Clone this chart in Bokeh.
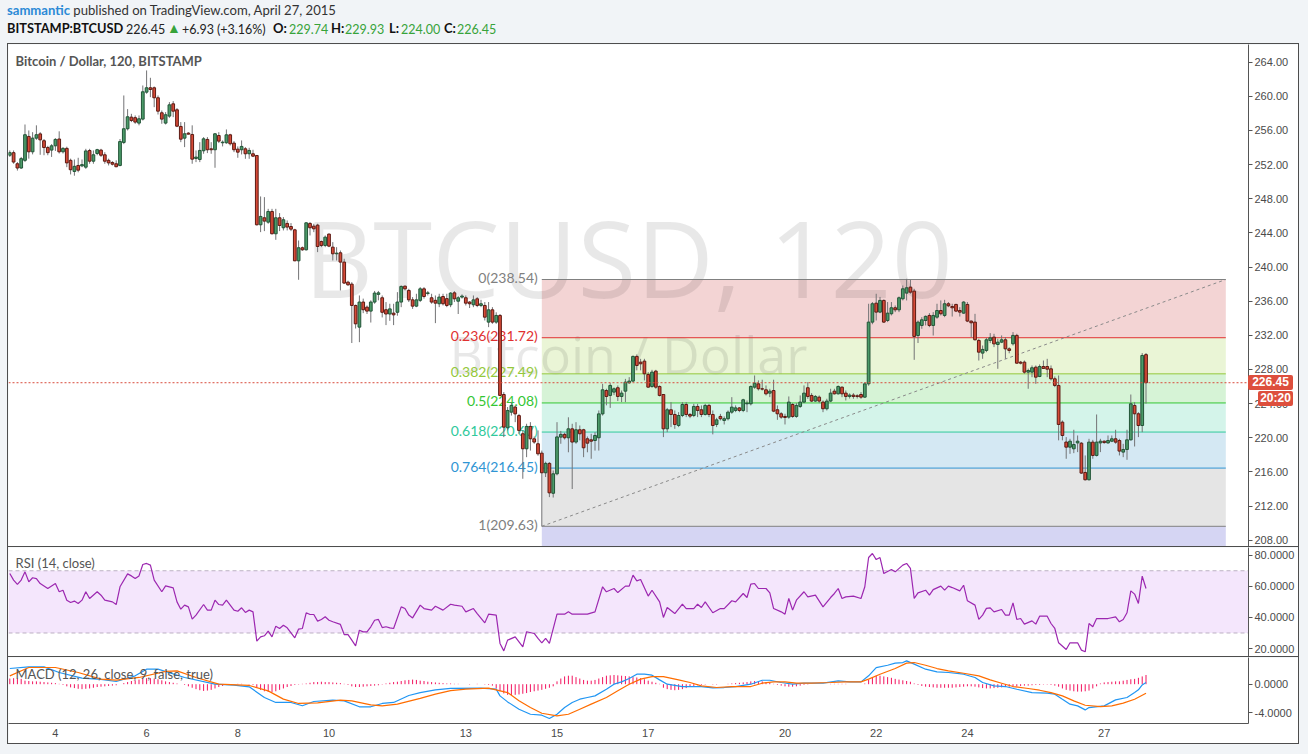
from bokeh.plotting import figure
from bokeh.models import (Range1d, FixedTicker, NumeralTickFormatter, Label, Span,
                          BoxAnnotation, Div, ColumnDataSource, Spacer)
from bokeh.layouts import column, row
from bokeh.embed import file_html
from bokeh.resources import INLINE
from bokeh.core.properties import value

# ---------------- texts ----------------
publisher = "sammantic"
published_text = "published on TradingView.com, April 27, 2015"
symbol = "BITSTAMP:BTCUSD"
change_abs = 6.93
change_pct = 3.16
chart_title = "Bitcoin / Dollar, 120, BITSTAMP"
watermark_big = "BTCUSD, 120"
watermark_small = "Bitcoin / Dollar"
rsi_title = "RSI (14, close)"
macd_title = "MACD (12, 26, close, 9, false, true)"
countdown = "20:20"

# ---------------- time axis ----------------
first_day = 3
bars_per_day = 12
tick_days = [4, 6, 8, 10, 13, 15, 17, 20, 22, 24, 27]

# ---------------- candles (120 min bars) ----------------
opens = [
    253.1, 253.4, 252.1, 251.6, 252.5, 255.3, 253.5, 255.1, 255.6, 254.8,
    254.0, 253.7, 254.2, 255.0, 253.5, 253.9, 252.5, 251.2, 251.9, 251.85,
    251.7, 253.65, 252.4, 253.3, 253.7, 253.15, 252.5, 252.25, 252.1, 251.9,
    254.6, 256.2, 257.56, 257.5, 256.86, 257.33, 260.49, 261.0, 261.0, 259.83,
    258.07, 256.86, 257.68, 259.12, 258.42, 256.47, 255.1, 255.69, 255.53, 252.72,
    252.6, 253.62, 254.95, 253.85, 253.74, 255.41, 254.56, 254.56, 255.49, 254.52,
    253.81, 253.74, 253.85, 253.27, 253.27, 253.07, 244.95, 245.77, 245.26, 246.51,
    243.9, 245.77, 244.6, 245.11, 244.75, 244.36, 240.73, 242.26, 242.02, 245.11,
    244.79, 244.91, 242.99, 242.53, 243.86, 242.33, 241.55, 241.67, 240.58, 238.23,
    238.0, 235.5, 232.96, 235.9, 235.3, 234.84, 235.9, 236.8, 236.4, 235.0,
    234.5, 234.6, 234.7, 235.9, 237.76, 237.26, 236.16, 235.42, 236.1, 237.45,
    236.9, 236.4, 236.1, 235.7, 236.55, 236.3, 235.58, 236.98, 236.0, 236.48,
    236.4, 235.9, 235.58, 236.28, 235.5, 235.5, 233.55, 234.99, 233.55, 234.33,
    225.07, 221.17, 223.0, 223.6, 222.6, 220.47, 218.71, 221.33, 219.88, 219.3,
    218.2, 215.9, 217.0, 213.5, 215.78, 220.08, 220.4, 220.0, 221.05, 219.5,
    220.94, 220.94, 219.88, 219.76, 219.68, 220.0, 222.8, 225.54, 224.96, 225.35,
    225.86, 224.84, 225.46, 226.44, 226.64, 229.53, 228.86, 228.98, 227.42, 226.01,
    227.81, 226.01, 225.07, 221.05, 223.28, 222.73, 221.44, 222.61, 223.9, 222.73,
    222.61, 223.67, 223.28, 222.73, 223.79, 222.73, 221.56, 222.5, 222.03, 222.23,
    223.0, 223.2, 223.5, 223.2, 223.98, 223.98, 225.93, 226.32, 225.74, 225.62,
    225.23, 225.54, 223.28, 222.81, 222.5, 222.42, 223.9, 222.5, 223.67, 224.18,
    225.86, 224.96, 224.3, 224.76, 224.18, 223.4, 224.3, 225.46, 225.15, 225.93,
    225.23, 224.84, 225.0, 224.92, 225.07, 224.76, 226.32, 233.55, 235.77, 234.72,
    236.09, 233.74, 234.53, 235.23, 234.99, 236.28, 236.95, 237.65, 237.18, 231.98,
    233.16, 233.74, 234.33, 233.16, 234.13, 234.91, 234.33, 235.7, 235.38, 235.62,
    234.91, 234.6, 235.62, 233.67, 233.55, 231.4, 229.92, 230.23, 231.4, 231.79,
    230.93, 231.2, 231.48, 230.42, 231.01, 231.99, 228.86, 228.86, 227.69, 227.69,
    228.27, 227.18, 228.35, 228.35, 228.08, 226.91, 226.13, 221.83, 219.5, 218.9,
    218.71, 219.4, 219.37, 215.94, 215.08, 219.49, 217.93, 219.4, 219.6, 219.4,
    219.6, 219.88, 219.68, 218.32, 218.63, 219.76, 223.79, 222.81, 221.44, 229.74,
]
highs = [
    253.66, 253.66, 252.3, 252.9, 256.7, 256.0, 255.8, 256.6, 255.8, 255.0,
    254.2, 254.4, 255.1, 255.9, 254.05, 254.1, 252.7, 252.6, 252.8, 252.6,
    253.85, 253.85, 253.66, 253.85, 253.85, 253.45, 252.7, 252.4, 252.5, 255.0,
    260.1, 258.5, 257.95, 257.76, 257.76, 261.27, 263.03, 262.17, 261.15, 260.1,
    258.34, 258.15, 259.32, 259.44, 258.62, 256.98, 256.98, 255.8, 256.6, 253.66,
    254.63, 255.22, 255.22, 254.63, 255.69, 255.8, 254.83, 256.12, 255.61, 254.75,
    254.13, 254.83, 254.05, 253.97, 253.74, 253.1, 248.27, 248.19, 246.82, 246.82,
    246.82, 246.32, 245.85, 245.46, 245.15, 244.48, 243.11, 242.4, 245.26, 245.26,
    245.07, 245.07, 243.1, 243.7, 243.93, 242.92, 242.33, 241.94, 240.97, 238.4,
    238.23, 235.6, 236.67, 236.3, 235.5, 236.1, 237.2, 237.2, 236.67, 235.9,
    235.7, 235.7, 237.06, 237.84, 237.84, 237.45, 236.48, 236.87, 237.65, 237.65,
    237.2, 236.87, 236.67, 236.87, 236.87, 236.87, 237.06, 237.18, 236.6, 236.8,
    236.67, 236.0, 236.67, 236.48, 236.16, 235.9, 235.9, 235.3, 234.7, 234.5,
    225.35, 223.6, 224.18, 223.79, 222.8, 220.86, 221.64, 221.83, 220.15, 220.86,
    218.5, 217.2, 217.15, 216.17, 221.83, 220.8, 220.6, 222.4, 221.64, 221.83,
    221.44, 221.05, 220.15, 220.47, 220.66, 223.2, 226.32, 225.74, 226.4, 225.9,
    226.13, 225.54, 226.9, 227.1, 229.64, 229.76, 229.25, 229.25, 227.69, 227.96,
    227.96, 226.13, 225.07, 223.5, 224.18, 223.2, 223.0, 224.18, 224.18, 222.9,
    223.98, 223.98, 223.79, 223.98, 223.98, 223.2, 222.34, 222.8, 222.5, 223.2,
    224.76, 223.79, 223.6, 224.57, 224.37, 226.13, 227.3, 226.72, 226.8, 226.13,
    225.74, 226.8, 223.79, 223.0, 222.81, 224.84, 224.06, 224.06, 224.96, 226.13,
    226.52, 225.23, 225.0, 224.96, 224.37, 224.57, 225.74, 225.74, 226.13, 226.01,
    225.54, 225.2, 225.23, 225.1, 225.35, 226.52, 235.7, 235.9, 236.87, 236.5,
    236.2, 235.9, 235.9, 235.5, 236.55, 237.84, 238.62, 238.5, 237.45, 233.74,
    234.13, 234.33, 234.6, 234.72, 235.7, 236.09, 236.16, 235.9, 235.7, 235.7,
    235.3, 236.0, 235.9, 233.74, 234.52, 231.6, 230.81, 231.71, 232.26, 232.18,
    231.6, 231.99, 231.79, 230.6, 232.38, 232.18, 229.0, 229.05, 228.1, 228.47,
    228.47, 228.59, 229.05, 229.25, 228.47, 227.18, 227.3, 222.03, 220.08, 219.88,
    220.94, 220.27, 219.49, 217.93, 219.88, 219.76, 222.73, 219.88, 219.68, 220.27,
    220.27, 220.94, 219.88, 219.29, 220.94, 225.07, 224.18, 223.0, 229.92, 229.93,
]
lows = [
    252.9, 252.1, 251.3, 251.5, 252.3, 252.7, 253.2, 254.9, 253.15, 253.1,
    253.1, 252.9, 253.6, 253.3, 253.3, 251.7, 250.85, 250.7, 251.1, 251.7,
    251.5, 252.1, 252.1, 253.1, 252.9, 252.1, 251.9, 251.9, 251.7, 251.8,
    254.4, 256.0, 256.98, 256.78, 256.6, 257.17, 260.3, 259.9, 258.73, 257.87,
    256.78, 256.7, 257.48, 257.56, 256.39, 254.63, 254.05, 255.53, 252.1, 252.29,
    252.29, 253.27, 253.35, 253.27, 251.63, 254.52, 254.13, 254.44, 254.24, 253.46,
    252.8, 253.19, 252.68, 252.68, 252.88, 244.87, 244.09, 244.21, 245.07, 243.82,
    243.19, 244.21, 244.29, 244.29, 244.21, 240.69, 238.51, 241.9, 241.94, 243.7,
    244.09, 241.75, 242.33, 242.33, 242.33, 240.77, 240.77, 237.26, 238.04, 237.8,
    231.1, 232.8, 231.2, 234.6, 234.5, 233.5, 235.7, 236.1, 234.1, 233.2,
    233.7, 233.2, 234.3, 235.3, 237.26, 235.9, 235.1, 235.3, 235.9, 236.3,
    236.67, 235.7, 233.43, 235.3, 235.5, 235.3, 235.3, 235.9, 234.5, 236.3,
    235.5, 235.2, 235.3, 235.3, 235.3, 233.74, 232.96, 233.35, 233.35, 224.9,
    220.08, 220.86, 222.6, 221.83, 220.47, 215.2, 217.73, 218.5, 219.3, 217.9,
    209.63, 215.4, 213.05, 213.0, 215.6, 219.3, 219.8, 218.3, 214.0, 219.3,
    219.7, 217.73, 218.3, 217.54, 218.5, 218.5, 222.6, 223.8, 223.5, 225.0,
    224.3, 224.18, 224.18, 226.32, 226.52, 227.9, 227.9, 226.72, 225.86, 225.86,
    225.74, 224.84, 220.08, 220.66, 221.25, 221.05, 221.25, 222.42, 222.42, 222.3,
    222.42, 222.42, 222.42, 222.61, 222.42, 220.4, 221.25, 222.03, 221.56, 222.03,
    222.81, 223.0, 223.0, 223.0, 223.0, 223.79, 225.74, 225.54, 225.54, 224.96,
    224.76, 223.0, 222.1, 222.23, 221.56, 222.23, 222.34, 222.34, 223.5, 224.06,
    224.57, 224.18, 224.2, 224.06, 223.0, 223.2, 224.18, 225.07, 225.07, 224.76,
    224.37, 224.6, 224.57, 224.6, 224.57, 224.68, 226.1, 233.3, 233.74, 234.6,
    233.45, 233.55, 234.33, 234.72, 234.72, 236.09, 236.09, 236.87, 229.13, 231.1,
    232.77, 233.16, 232.96, 231.98, 233.94, 234.33, 234.13, 235.3, 234.2, 234.72,
    234.2, 234.52, 233.55, 231.79, 231.4, 229.05, 229.25, 230.03, 231.09, 230.62,
    228.08, 231.09, 229.25, 229.9, 230.81, 228.67, 228.6, 227.5, 225.74, 227.1,
    226.32, 227.1, 228.08, 227.1, 226.72, 225.93, 219.7, 219.7, 217.54, 218.12,
    218.2, 218.32, 215.78, 215.0, 215.0, 217.54, 217.81, 218.32, 219.3, 219.3,
    219.49, 219.3, 217.93, 217.73, 217.42, 219.68, 218.98, 220.08, 220.66, 224.0,
]
closes = [
    253.4, 252.3, 251.6, 252.7, 255.5, 253.5, 255.1, 255.5, 254.9, 254.0,
    253.4, 254.2, 254.95, 253.5, 253.9, 252.2, 251.4, 251.8, 251.35, 252.0,
    253.6, 252.4, 253.15, 253.75, 253.1, 252.4, 252.2, 252.05, 251.75, 254.7,
    256.2, 257.6, 257.17, 256.98, 257.37, 260.53, 261.0, 260.8, 259.83, 258.26,
    257.33, 257.84, 259.0, 258.26, 256.5, 254.98, 255.61, 255.57, 252.64, 252.88,
    253.66, 255.02, 253.74, 253.74, 255.61, 254.75, 254.63, 255.49, 254.44, 253.74,
    253.46, 254.13, 253.27, 253.66, 252.99, 244.95, 245.93, 245.38, 246.51, 243.9,
    245.77, 244.87, 245.54, 244.68, 244.44, 240.73, 242.26, 242.02, 245.18, 244.6,
    244.48, 242.41, 242.53, 243.5, 242.45, 241.55, 241.63, 240.58, 238.12, 237.92,
    235.5, 233.35, 235.9, 235.0, 234.84, 235.9, 236.95, 236.98, 234.7, 234.5,
    235.1, 234.4, 235.9, 237.73, 237.45, 236.16, 235.42, 236.16, 237.45, 236.55,
    236.98, 235.9, 235.77, 236.48, 235.7, 235.5, 236.95, 236.28, 236.4, 236.6,
    235.77, 235.7, 236.16, 235.5, 235.7, 234.13, 234.99, 233.55, 234.33, 224.96,
    221.25, 223.2, 223.79, 222.8, 220.86, 218.71, 221.33, 219.88, 219.5, 218.12,
    215.9, 217.0, 213.55, 215.78, 220.1, 220.4, 220.0, 221.05, 219.5, 220.94,
    220.47, 218.83, 219.37, 219.6, 220.27, 222.8, 225.62, 224.84, 226.13, 225.74,
    224.84, 225.23, 226.52, 226.64, 229.53, 228.47, 228.67, 227.5, 225.93, 227.69,
    225.93, 224.96, 221.05, 223.28, 222.73, 221.56, 222.61, 223.9, 222.73, 222.54,
    223.67, 223.2, 222.73, 223.79, 222.73, 221.44, 222.1, 222.23, 222.23, 223.0,
    223.59, 223.5, 223.2, 224.45, 224.06, 226.01, 226.4, 225.74, 225.7, 225.15,
    225.46, 223.12, 222.81, 222.42, 222.38, 224.18, 222.5, 223.79, 224.18, 225.23,
    224.84, 224.3, 224.84, 224.3, 223.4, 224.3, 225.23, 225.15, 226.01, 225.15,
    224.84, 225.0, 224.84, 224.84, 224.76, 226.32, 233.55, 235.7, 234.72, 236.09,
    233.55, 234.6, 235.23, 234.99, 236.4, 237.45, 237.57, 237.06, 231.87, 233.55,
    233.82, 234.22, 233.16, 234.33, 234.91, 234.53, 235.7, 235.46, 235.23, 234.84,
    234.72, 235.9, 233.67, 233.47, 231.48, 230.03, 230.35, 231.48, 231.71, 231.0,
    231.2, 231.48, 230.42, 230.23, 231.99, 228.74, 228.74, 227.69, 227.88, 228.2,
    227.1, 228.35, 228.12, 228.04, 226.91, 226.13, 221.56, 220.27, 218.9, 219.6,
    219.21, 219.6, 215.86, 215.08, 219.49, 217.93, 219.49, 219.6, 219.44, 219.68,
    219.88, 219.49, 218.44, 218.63, 219.76, 223.98, 222.81, 221.44, 229.64, 226.45,
]

# ---------------- Fibonacci retracement ----------------
fib_ratios = ["0", "0.236", "0.382", "0.5", "0.618", "0.764", "1"]
fib_prices = [238.54, 231.72, 227.49, 224.08, 220.67, 216.45, 209.63]
fib_start_bar = 140
fib_end_bar = 320

# ---------------- RSI (bar, value) ----------------
rsi_points = [
    (0, 68.2), (1, 64.0), (2, 61.2), (3, 64.0), (4, 69.3), (5, 62.9), (6, 65.5), (7, 65.0), (8, 61.8),
    (10, 58.6), (12, 61.8), (13, 56.5), (14, 57.5), (15, 51.1), (16, 49.6), (17, 50.5), (18, 49.0),
    (19, 51.1), (20, 56.5), (21, 52.2), (23, 56.5), (24, 54.3), (25, 51.1), (27, 50.0), (28, 48.3),
    (29, 59.7), (31, 68.0), (32, 66.7), (33, 65.0), (34, 66.7), (35, 74.0), (36, 74.7), (37, 73.6),
    (38, 64.0), (40, 56.5), (41, 60.3), (43, 59.0), (44, 50.0), (45, 45.3), (46, 47.9), (47, 46.8),
    (48, 38.9), (49, 41.5), (51, 48.3), (52, 44.7), (53, 44.7), (54, 51.1), (55, 48.3), (56, 47.9),
    (57, 51.1), (58, 47.9), (59, 44.7), (60, 44.0), (61, 46.2), (62, 43.2), (63, 44.7), (64, 43.6),
    (65, 24.8), (66, 27.5), (67, 28.2), (68, 31.2), (69, 27.5), (70, 34.4), (71, 32.9), (72, 35.0),
    (73, 33.3), (75, 26.9), (76, 32.5), (77, 32.9), (78, 43.0), (79, 41.9), (80, 41.9), (81, 37.6),
    (82, 38.7), (83, 40.4), (84, 38.2), (85, 37.2), (87, 35.5), (88, 29.0), (89, 29.0), (90, 25.4),
    (91, 21.7), (92, 31.8), (93, 30.7), (94, 30.7), (95, 34.0), (96, 38.2), (97, 38.7), (98, 33.5),
    (99, 34.0), (100, 33.3), (101, 32.9), (103, 46.8), (104, 45.7), (105, 41.5), (106, 39.7),
    (108, 47.9), (109, 45.7), (111, 44.7), (112, 47.2), (114, 44.7), (116, 48.5), (117, 47.9),
    (119, 47.2), (120, 43.6), (122, 45.7), (123, 42.5), (125, 36.5), (126, 42.1), (128, 41.5),
    (129, 23.3), (130, 18.5), (131, 25.4), (133, 27.5), (135, 21.1), (136, 30.8), (138, 29.7),
    (139, 26.5), (140, 23.7), (141, 26.5), (142, 23.3), (144, 42.1), (146, 42.1), (147, 43.6),
    (148, 42.1), (150, 42.1), (152, 42.1), (154, 43.6), (156, 59.7), (157, 56.5), (159, 58.6),
    (160, 56.0), (162, 60.1), (163, 60.1), (164, 67.2), (165, 63.5), (166, 64.4), (168, 53.7),
    (169, 57.5), (171, 50.0), (172, 40.0), (173, 46.4), (175, 42.5), (177, 48.5), (178, 45.7),
    (180, 45.7), (181, 48.5), (182, 46.4), (183, 50.0), (185, 43.0), (187, 45.7), (188, 45.7),
    (190, 50.7), (191, 50.0), (193, 55.4), (194, 52.8), (195, 61.4), (196, 61.8), (197, 58.6),
    (199, 58.6), (200, 55.8), (201, 45.7), (203, 43.6), (204, 42.1), (205, 52.2), (206, 44.7),
    (207, 51.1), (209, 56.5), (210, 53.2), (212, 54.3), (214, 46.8), (216, 52.8), (217, 55.4),
    (218, 58.6), (219, 52.2), (220, 53.2), (222, 53.7), (224, 52.2), (225, 59.7), (226, 78.5),
    (227, 81.1), (228, 77.2), (229, 78.5), (230, 68.2), (232, 70.8), (233, 69.3), (235, 73.6),
    (236, 74.7), (237, 71.5), (238, 52.2), (239, 55.8), (241, 57.5), (242, 54.3), (243, 57.9),
    (245, 60.1), (246, 57.5), (247, 60.1), (248, 59.2), (250, 57.1), (251, 60.7), (252, 50.7),
    (254, 47.9), (255, 38.7), (256, 41.5), (257, 45.8), (258, 46.2), (259, 43.6), (261, 45.1),
    (262, 41.5), (263, 41.5), (264, 49.4), (265, 38.7), (266, 39.3), (267, 35.7), (269, 37.8),
    (270, 35.7), (271, 40.8), (273, 40.8), (274, 36.1), (275, 32.9), (276, 23.7), (278, 19.4),
    (279, 23.7), (281, 23.7), (282, 19.0), (283, 17.9), (284, 36.1), (285, 34.0), (286, 39.3),
    (289, 39.3), (291, 40.4), (292, 37.2), (293, 38.7), (294, 43.0), (295, 57.1), (296, 55.0),
    (297, 49.0), (298, 66.5), (299, 58.6),
]

# ---------------- MACD line / signal line (bar, value) ----------------
macd_points = [
    (0, 2.22), (5, 2.45), (9, 2.45), (13, 1.65), (19, 0.85), (24, 0.67), (28, 0.38), (33, 1.18),
    (36, 2.12), (39, 2.12), (46, 0.95), (54, 0.0), (59, -0.14), (63, -0.37), (67, -1.88), (70, -2.58),
    (74, -2.58), (77, -3.05), (80, -2.44), (85, -2.25), (88, -2.35), (92, -3.19), (95, -3.19),
    (98, -2.72), (101, -2.58), (105, -1.6), (108, -1.2), (112, -0.8), (116, -0.6), (124, -0.55),
    (128, -0.7), (129, -1.65), (131, -2.5), (134, -3.53), (137, -4.24), (140, -4.38), (142, -4.85),
    (144, -4.24), (146, -3.3), (148, -2.59), (150, -2.12), (152, -1.88), (154, -1.65), (157, -0.71),
    (159, 0.0), (161, 0.33), (163, 0.8), (165, 1.41), (167, 1.41), (169, 1.27), (171, 0.61),
    (173, 0.0), (177, -0.33), (182, -0.33), (185, -0.52), (188, -0.47), (191, -0.33), (195, 0.0),
    (198, 0.56), (200, 0.56), (203, 0.24), (206, 0.0), (209, 0.14), (214, 0.14), (218, 0.47),
    (221, 0.33), (224, 0.33), (226, 1.18), (228, 2.35), (231, 2.68), (233, 2.97), (235, 3.06),
    (236, 3.3), (238, 2.83), (241, 2.12), (244, 1.74), (247, 1.65), (251, 1.41), (254, 0.94),
    (256, 0.24), (259, -0.24), (262, -0.33), (265, -0.71), (269, -1.18), (273, -1.27), (275, -1.41),
    (277, -2.12), (279, -2.82), (281, -3.06), (283, -3.63), (284, -3.3), (288, -3.06), (291, -2.21),
    (294, -1.88), (296, -1.18), (297, -0.8), (298, -0.1), (299, 0.24),
]
signal_points = [
    (0, 1.18), (5, 2.36), (12, 2.36), (18, 1.65), (24, 0.71), (28, 0.57), (34, 0.95), (41, 1.8),
    (44, 1.89), (49, 0.95), (55, 0.0), (63, -0.18), (68, -0.94), (72, -2.11), (76, -2.72), (81, -2.63),
    (87, -2.25), (90, -2.35), (95, -2.91), (98, -3.05), (102, -2.82), (108, -2.0), (112, -1.4),
    (116, -0.9), (120, -0.7), (126, -0.56), (131, -1.18), (134, -2.35), (137, -3.3), (140, -4.1),
    (144, -4.47), (147, -4.24), (150, -3.53), (153, -2.82), (157, -1.88), (160, -0.94), (163, 0.0),
    (166, 0.71), (169, 1.08), (172, 1.08), (176, 0.61), (179, 0.24), (182, -0.24), (186, -0.47),
    (190, -0.33), (195, -0.33), (198, 0.14), (201, 0.33), (204, 0.33), (207, 0.14), (211, 0.14),
    (216, 0.24), (220, 0.33), (224, 0.33), (226, 0.71), (229, 1.41), (233, 2.21), (236, 2.97),
    (238, 3.06), (241, 2.68), (244, 2.21), (247, 1.88), (251, 1.55), (255, 1.18), (258, 0.61),
    (261, 0.14), (264, -0.33), (268, -0.61), (271, -0.85), (274, -1.18), (277, -1.65), (280, -2.35),
    (283, -2.97), (287, -3.16), (290, -3.06), (293, -2.68), (296, -2.12), (299, -1.27),
]

# ---------------- MACD histogram (one value per bar) ----------------
macd_hist = [
    0.8, 0.85, 0.8, 0.75,
    0.5, 0.45, 0.4, 0.4, 0.35, 0.3, 0.25, 0.2, 0.15,
    0.05, -0.1,
    -0.3, -0.45, -0.55, -0.65, -0.7, -0.65, -0.6, -0.5,
    -0.4, -0.35, -0.3, -0.25, -0.2, -0.15,
    0.0, 0.15,
    0.3, 0.45, 0.55, 0.65, 0.75, 0.85, 0.85, 0.8, 0.7, 0.55,
    0.4, 0.3, 0.2, 0.1, 0.0, -0.1,
    -0.3, -0.5, -0.7, -0.85, -0.95, -0.9, -0.8, -0.6, -0.4, -0.25,
    -0.1, -0.05, 0.0, 0.05, 0.05, 0.0, -0.05, -0.1,
    -0.5, -0.8, -1.0, -1.1, -1.1, -1.0, -0.8, -0.6,
    -0.4, -0.25, -0.1, -0.05, 0.05, 0.1,
    0.2, 0.3, 0.3, 0.35, 0.3, 0.3, 0.25, 0.2, 0.15, 0.05,
    -0.1, -0.3, -0.4, -0.4, -0.35, -0.3, -0.25, -0.2, -0.15, -0.05,
    0.1, 0.2, 0.3, 0.35, 0.45, 0.55, 0.6, 0.65, 0.6,
    0.5, 0.45, 0.35, 0.3, 0.25, 0.2, 0.15, 0.1, 0.1, 0.05, 0.05, 0.0, 0.0, -0.05, 0.0, 0.05, 0.0, -0.05, -0.1, -0.2,
    -0.6, -1.0, -1.3, -1.5, -1.55, -1.5, -1.45, -1.35, -1.25,
    -1.1, -1.0, -0.9, -0.8, -0.65, -0.5, -0.3,
    0.4, 0.8, 1.1, 1.2, 1.2, 1.0, 0.8, 0.6, 0.5, 0.5, 0.6, 0.8, 1.0, 1.2, 1.25, 1.3, 1.25, 1.2, 1.15, 1.1, 1.0, 0.95,
    0.85, 0.7, 0.5, 0.35, 0.2, 0.05,
    -0.5, -0.7, -0.8, -0.85, -0.8, -0.7, -0.55, -0.4,
    -0.25, -0.15, -0.1, -0.05, 0.0, -0.05, -0.05, 0.0, 0.0, 0.05,
    0.1, 0.15, 0.2, 0.25, 0.3, 0.4, 0.45, 0.45, 0.4,
    0.3, 0.2, 0.05, -0.1, -0.2,
    -0.3, -0.35, -0.35, -0.3, -0.2,
    -0.1, -0.05, 0.0, 0.0, 0.0, 0.0, 0.0, 0.05, 0.05, 0.05, 0.05, 0.05, 0.0, 0.0, 0.0, 0.0,
    0.1, 0.6, 1.0, 1.2, 1.2, 1.1, 1.0, 0.9, 0.75, 0.65, 0.55, 0.45, 0.35,
    0.1, -0.1, -0.25, -0.35, -0.4, -0.45, -0.5, -0.5, -0.5, -0.5, -0.5, -0.45, -0.4, -0.35, -0.3, -0.3,
    -0.35, -0.45, -0.55, -0.6, -0.6, -0.55,
    -0.5, -0.45, -0.4, -0.35, -0.35, -0.3, -0.25, -0.2, -0.2, -0.15, -0.1, -0.1, -0.05, -0.05, -0.1, -0.2, -0.35,
    -0.6, -0.8, -0.9, -1.0, -1.05, -1.05, -1.0, -0.9, -0.6,
    -0.3, 0.1, 0.25, 0.3, 0.35, 0.4, 0.4,
    0.5, 0.6, 0.7, 0.75, 0.9, 1.1, 1.3,
]

# ---------------- styling ----------------
UP_FILL, UP_LINE = "#4b9a68", "#225437"
DN_FILL, DN_LINE = "#d64a37", "#5b1a13"
WICK = "#737375"
TAG_RED = "#dd4f3d"
fib_line_colors = ["#808080", "#e03030", "#94c83a", "#33c633", "#30c99c", "#3095d4", "#808080"]
fib_zone_colors = ["#f3d4d4", "#eaf5d6", "#d6f3d6", "#d4f4ea", "#d4e8f3", "#e5e5e5", "#d5d5f3"]
AXIS_COLOR = "#555555"
TICK_LABEL = "#4a4a4a"
PAGE_BG = "#f1f4f7"
BORDER = "1px solid #4d4d4d"

n = len(closes)
bars = list(range(n))
x_range = Range1d(-0.342, 325.97)
W = 1292
RIGHT = 52
HEADER_H = 43
PRICE_H = 504
PRICE_LO, PRICE_HI = 207.03, 266.07


def make(height, y0, y1, styles, bottom=0, x_axis=None):
    p = figure(width=W, height=height, x_range=x_range, y_range=Range1d(y0, y1),
               output_backend="svg", toolbar_location=None, title=None,
               y_axis_location="right", x_axis_location=x_axis,
               min_border_left=0, min_border_right=RIGHT, min_border_top=0,
               min_border_bottom=bottom, outline_line_color=None,
               background_fill_color="white", border_fill_color="white", styles=styles)
    p.xgrid.visible = False
    p.ygrid.visible = False
    for ax in p.yaxis:
        ax.axis_line_color = AXIS_COLOR
        ax.major_tick_line_color = AXIS_COLOR
        ax.major_tick_out = 4
        ax.major_tick_in = 0
        ax.minor_tick_line_color = None
        ax.major_label_text_font = "Liberation Sans"
        ax.major_label_text_font_size = "11px"
        ax.major_label_text_color = TICK_LABEL
        ax.major_label_standoff = 2
    return p


def panel_title(p, y, text, bold=False):
    p.add_layout(Label(x=x_range.start, y=y, x_offset=7, text=text, text_font="Lato",
                       text_font_size="13px", text_color="#555555", text_baseline="middle",
                       text_font_style="bold" if bold else "normal"))


# ================= price pane =================
pA = make(PRICE_H, PRICE_LO, PRICE_HI, {"border-top": BORDER, "border-left": BORDER,
                                         "border-right": BORDER, "border-bottom": BORDER})
pA.yaxis.ticker = FixedTicker(ticks=list(range(208, 265, 4)))
pA.yaxis.formatter = NumeralTickFormatter(format="0.00")

# fib zones
zone_tops = fib_prices
zone_bottoms = fib_prices[1:] + [pA.y_range.start]
pA.quad(left=[fib_start_bar] * len(zone_tops), right=[fib_end_bar] * len(zone_tops),
        top=zone_tops, bottom=zone_bottoms, fill_color=fib_zone_colors, line_color=None)

# watermark
x_mid = (x_range.start + x_range.end) / 2
pA.text(x=[x_mid], y=[241.2], text=[watermark_big], text_font=value("Open Sans"),
        text_font_size="107px", text_color="#000000", text_alpha=0.09,
        text_align="center", text_baseline="alphabetic")
pA.text(x=[x_mid], y=[229.9], text=[watermark_small], text_font=value("Open Sans"),
        text_font_size="52px", text_color="#000000", text_alpha=0.09,
        text_align="center", text_baseline="alphabetic")

# fib lines + labels
pA.segment(x0=[fib_start_bar] * 7, x1=[fib_end_bar] * 7, y0=fib_prices, y1=fib_prices,
           line_color=fib_line_colors, line_width=1)
pA.text(x=[fib_start_bar] * 7, y=fib_prices,
        text=[f"{r}({v:.2f})" for r, v in zip(fib_ratios, fib_prices)],
        text_color=fib_line_colors, text_font=value("Lato"), text_font_size="14px",
        text_align="right", text_baseline="middle", x_offset=-4, y_offset=-2)
pA.line([fib_start_bar, fib_end_bar], [fib_prices[-1], fib_prices[0]],
        line_color="#8a8a8a", line_dash="3 3", line_width=1)

# last price line
pA.add_layout(Span(location=closes[-1], dimension="width", line_color="#d84b3c",
                   line_dash="2 2", line_width=1))

# candles
up = [c >= o for o, c in zip(opens, closes)]


def pick(seq, flag):
    return [s for s, u in zip(seq, up) if u == flag]


for flag, fill, edge in ((True, UP_FILL, UP_LINE), (False, DN_FILL, DN_LINE)):
    src = ColumnDataSource(dict(x=pick(bars, flag), o=pick(opens, flag), h=pick(highs, flag),
                                l=pick(lows, flag), c=pick(closes, flag)))
    pA.segment(x0="x", y0="h", x1="x", y1="l", source=src, line_color=WICK, line_width=1)
    if flag:
        pA.vbar(x="x", width=0.72, top="c", bottom="o", source=src, fill_color=fill, line_color=edge)
    else:
        pA.vbar(x="x", width=0.72, top="o", bottom="c", source=src, fill_color=fill, line_color=edge)

panel_title(pA, 264.1, chart_title, bold=True)

# ================= RSI pane =================
pB = make(110, 14.25, 84.95, {"border-left": BORDER, "border-right": BORDER, "border-bottom": BORDER})
pB.yaxis.ticker = FixedTicker(ticks=[20, 40, 60, 80])
pB.yaxis.formatter = NumeralTickFormatter(format="0.0000")
pB.add_layout(BoxAnnotation(bottom=30, top=70, fill_color="#f4e6fc", fill_alpha=1.0,
                            line_color=None, level="underlay"))
for lvl in (30, 70):
    pB.add_layout(Span(location=lvl, dimension="width", line_color="#bbb0c2",
                       line_dash="4 3", line_width=1, level="underlay"))
pB.line([b for b, _ in rsi_points], [v for _, v in rsi_points], line_color="#9c27b0", line_width=1.2)
panel_title(pB, 74.7, rsi_title)

# ================= MACD pane =================
pC = make(87, -5.55, 3.77, {"border-left": BORDER, "border-right": BORDER, "border-bottom": BORDER},
          bottom=21, x_axis="below")
pC.yaxis.ticker = FixedTicker(ticks=[-4, 0])
pC.yaxis.formatter = NumeralTickFormatter(format="0.0000")
tick_pos = [(d - first_day) * bars_per_day for d in tick_days]
xa = pC.xaxis[0]
xa.ticker = FixedTicker(ticks=tick_pos)
xa.major_label_overrides = {t: str(d) for t, d in zip(tick_pos, tick_days)}
xa.axis_line_color = AXIS_COLOR
xa.major_tick_line_color = None
xa.major_tick_out = 0
xa.minor_tick_line_color = None
xa.major_label_standoff = 5
xa.major_label_text_font = "Liberation Sans"
xa.major_label_text_font_size = "11px"
xa.major_label_text_color = TICK_LABEL

pC.segment(x0=bars, x1=bars, y0=[0] * n, y1=macd_hist, line_color="#f2145f", line_width=1)
pC.line([b for b, _ in macd_points], [v for _, v in macd_points], line_color="#2196f3", line_width=1.2)
pC.line([b for b, _ in signal_points], [v for _, v in signal_points], line_color="#ff6d00", line_width=1.2)
panel_title(pC, 1.37, macd_title)

# ================= header (and the last-price tag in the price scale) =================
GREEN = "#37a33a"


def piece(left, size, txt, color="#222222", weight="normal", baseline=34.0):
    top = baseline - 0.987 * size
    return (f'<span style="position:absolute;left:{left}px;top:{top:.1f}px;font-size:{size}px;'
            f'line-height:1.2;color:{color};font-weight:{weight};white-space:nowrap;">{txt}</span>')


# vertical position of the last close on the price scale (frame starts 1px below the header)
frame_left = 8
frame_right = frame_left + W - RIGHT
tag_cy = HEADER_H + 1 + (PRICE_HI - closes[-1]) / (PRICE_HI - PRICE_LO) * PRICE_H


def tag(left, cy, width, txt):
    return (f'<div style="position:absolute;z-index:20;left:{left}px;top:{cy - 7.5:.1f}px;'
            f'width:{width}px;height:15px;background:{TAG_RED};color:white;border-radius:2px;'
            f'font-family:\'Liberation Sans\';font-weight:bold;font-size:12px;line-height:15px;'
            f'text-align:center;">{txt}</div>')


hdr = ('<div style="position:relative;width:1308px;height:43px;font-family:Lato;">'
       + piece(7, 13.1, f'<span style="color:#2b8ad6;font-weight:bold;">{publisher}</span> {published_text}',
               "#333333", baseline=16.0)
       + piece(7, 12.8, symbol, "#111111", "bold")
       + piece(126, 12.5, f"{closes[-1]:.2f}", "#222222")
       + piece(167, 14, "&#9650;", GREEN)
       + piece(182, 12.5, f"+{change_abs:.2f}", "#222222")
       + piece(217, 12.5, f"(+{change_pct:.2f}%)", "#222222")
       + piece(273, 13, "O:", "#111111", "bold")
       + piece(289, 12.5, f"{opens[-1]:.2f}", GREEN)
       + piece(331, 13, "H:", "#111111", "bold")
       + piece(345, 12.5, f"{highs[-1]:.2f}", GREEN)
       + piece(389, 13, "L:", "#111111", "bold")
       + piece(401, 12.5, f"{lows[-1]:.2f}", GREEN)
       + piece(444, 13, "C:", "#111111", "bold")
       + piece(457, 12.5, f"{closes[-1]:.2f}", GREEN)
       + tag(frame_right, tag_cy, 45, f"{closes[-1]:.2f}")
       + tag(frame_right + 10, tag_cy + 16, 35, countdown)
       + '</div>')
header = Div(text=hdr, width=1308, height=HEADER_H, margin=0, styles={"z-index": "5", "overflow": "visible"})

charts = column(pA, pB, pC, spacing=0)
body = row(Spacer(width=7, height=705), charts, Spacer(width=7, height=705), spacing=0)
layout = column(header, body, Spacer(width=1308, height=6), spacing=0,
                styles={"background-color": PAGE_BG})
open("out.html", "w").write(file_html(layout, INLINE))
